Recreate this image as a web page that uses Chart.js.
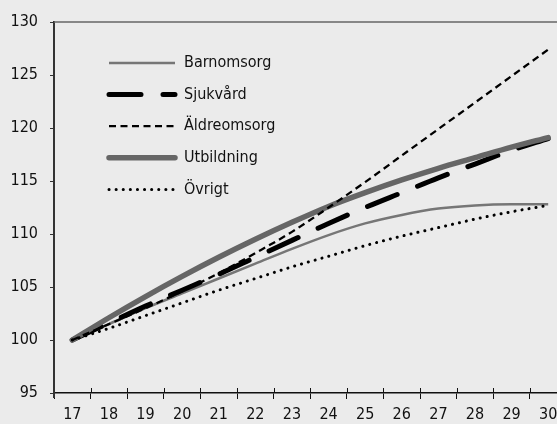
<!DOCTYPE html>
<html>
<head>
<meta charset="utf-8">
<script src="https://cdn.jsdelivr.net/npm/chart.js@4"></script>
<style>
    html, body { margin: 0; padding: 0; background: #ebebeb; overflow: hidden; }
    #wrap { width: 580px; height: 424px; }
</style>
</head>
<body>
<div id="wrap"><canvas id="chart" width="580" height="424"></canvas></div>
<script>
const years = ["17", "18", "19", "20", "21", "22", "23", "24", "25", "26", "27", "28", "29", "30"];
const barnomsorg = [100, 101.5, 103.0, 104.4, 105.8, 107.2, 108.6, 109.9, 111.0, 111.8, 112.4, 112.7, 112.8, 112.8];
const sjukvard = [100, 101.6, 103.2, 104.7, 106.2, 107.8, 109.4, 111.0, 112.5, 113.9, 115.3, 116.6, 117.9, 119.0];
const aldreomsorg = [100, 101.5, 103.0, 104.6, 106.3, 108.2, 110.2, 112.5, 114.9, 117.4, 119.9, 122.4, 124.9, 127.4];
const utbildning = [100, 102.1, 104.1, 106.0, 107.8, 109.5, 111.1, 112.6, 113.9, 115.1, 116.2, 117.2, 118.2, 119.1];
const ovrigt = [100, 101.1, 102.3, 103.5, 104.7, 105.8, 106.9, 107.9, 108.9, 109.8, 110.6, 111.4, 112.1, 112.7];
const yMin = 95;
const yMax = 130;
const yStep = 5;

const FONT = "'Liberation Sans Narrow', 'DejaVu Sans Condensed', 'Arial Narrow', sans-serif";

// legend, top border and the x ticks that cross the axis
const decorations = {
    id: "decorations",
    afterDraw(chart) {
        const ctx = chart.ctx;
        const area = chart.chartArea;
        const x = chart.scales.x;
        ctx.save();

        ctx.strokeStyle = "#666";
        ctx.lineWidth = 1.5;
        ctx.beginPath();
        ctx.moveTo(area.left, area.top);
        ctx.lineTo(area.right, area.top);
        ctx.stroke();

        // left axis runs a little below the x axis
        ctx.strokeStyle = "#333";
        ctx.lineWidth = 2;
        ctx.beginPath();
        ctx.moveTo(area.left, area.bottom);
        ctx.lineTo(area.left, area.bottom + 5);
        ctx.stroke();

        ctx.strokeStyle = "#111";
        ctx.lineWidth = 1;
        for (let i = 1; i < years.length; i++) {
            const px = Math.round((x.getPixelForValue(i - 1) + x.getPixelForValue(i)) / 2) + 0.5;
            ctx.beginPath();
            ctx.moveTo(px, area.bottom - 5);
            ctx.lineTo(px, area.bottom);
            ctx.stroke();
        }

        ctx.font = "16px " + FONT;
        ctx.textBaseline = "middle";
        ctx.fillStyle = "#111";
        chart.data.datasets.forEach((ds, i) => {
            const y = 63 + i * 31.6;
            ctx.strokeStyle = ds.borderColor;
            ctx.lineWidth = ds.borderWidth;
            ctx.lineCap = ds.borderCapStyle || "butt";
            ctx.setLineDash(ds.borderDash || []);
            ctx.beginPath();
            ctx.moveTo(109, y);
            ctx.lineTo(175, y);
            ctx.stroke();
            ctx.setLineDash([]);
            ctx.fillText(ds.label, 184, y);
        });
        ctx.restore();
    },
};

new Chart(document.getElementById("chart"), {
    type: "line",
    data: {
        labels: years,
        datasets: [
            {
                label: "Barnomsorg",
                data: barnomsorg,
                borderColor: "#767676",
                borderWidth: 2.5,
                order: 4,
            },
            {
                label: "Sjukvård",
                data: sjukvard,
                borderColor: "#000",
                borderWidth: 5,
                borderDash: [32, 22],
                borderCapStyle: "round",
                order: 3,
            },
            {
                label: "Äldreomsorg",
                data: aldreomsorg,
                borderColor: "#000",
                borderWidth: 2.3,
                borderDash: [7, 4.5],
                order: 1,
            },
            {
                label: "Utbildning",
                data: utbildning,
                borderColor: "#666",
                borderWidth: 5.5,
                borderCapStyle: "round",
                order: 2,
            },
            {
                label: "Övrigt",
                data: ovrigt,
                borderColor: "#000",
                borderWidth: 3,
                borderDash: [0.1, 7],
                borderCapStyle: "round",
                order: 1,
            },
        ],
    },
    options: {
        responsive: false,
        animation: false,
        layout: { padding: { top: 22, right: 13.5, left: 0, bottom: 0 } },
        elements: {
            point: { radius: 0, hoverRadius: 0 },
            line: { cubicInterpolationMode: "monotone", fill: false },
        },
        plugins: {
            legend: { display: false },
            tooltip: { enabled: false },
        },
        scales: {
            x: {
                offset: true,
                grid: {
                    offset: true,
                    drawOnChartArea: false,
                    drawTicks: true,
                    tickLength: 6,
                    color: "#111",
                },
                border: { color: "#111", width: 1.5 },
                ticks: {
                    color: "#111",
                    padding: 6,
                    maxRotation: 0,
                    autoSkip: false,
                    font: { family: FONT, size: 16 },
                },
                afterFit: (s) => { s.height = 31; },
            },
            y: {
                min: yMin,
                max: yMax,
                grid: {
                    drawOnChartArea: false,
                    drawTicks: true,
                    tickLength: 4,
                    color: "#333",
                },
                border: { color: "#333", width: 2 },
                ticks: {
                    stepSize: yStep,
                    color: "#111",
                    padding: 12,
                    font: { family: FONT, size: 16 },
                },
                afterFit: (s) => { s.width = 54; },
            },
        },
    },
    plugins: [decorations],
});
</script>
</body>
</html>
